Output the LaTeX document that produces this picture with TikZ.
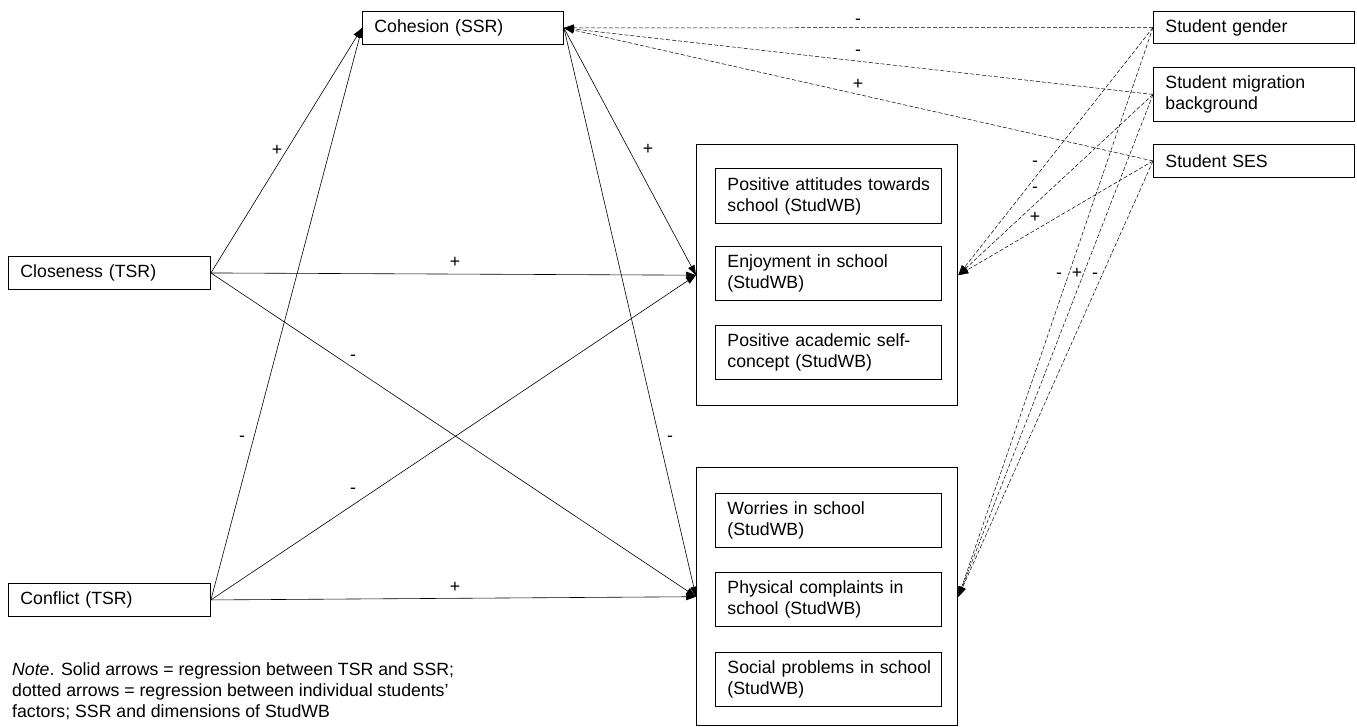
\documentclass[tikz,border=0pt]{standalone}
\usepackage{fontspec}
\setmainfont{Liberation Sans}
\usetikzlibrary{arrows.meta}

\begin{document}
\begin{tikzpicture}[x=1pt,y=-1pt,font=\fontsize{17.7pt}{21pt}\selectfont,
  box/.style={draw, line width=0.9pt, anchor=north west, align=left, inner xsep=12pt, inner ysep=0pt},
  grp/.style={draw, line width=1.4pt, anchor=north west, inner sep=0pt},
  reg/.style={line width=0.6pt, -{Triangle[length=10pt,width=7pt]}},
  cov/.style={reg, line width=0.5pt, dash pattern=on 4pt off 2pt},
  sgn/.style={inner sep=0pt, text height=1.5ex, text depth=.25ex}]
\useasboundingbox (0,0) rectangle (1357,727);
%Boxes
\node[box, text width=177pt, minimum height=33pt] (coh) at (362,11) {Cohesion (SSR)};
\node[box, text width=178pt, minimum height=33pt] (close) at (8,256) {Closeness (TSR)};
\node[box, text width=178pt, minimum height=33pt] (confl) at (8,583) {Conflict (TSR)};
\node[box, text width=177pt, minimum height=32pt] (gen) at (1153,11) {Student gender};
\node[box, text width=177pt, minimum height=54pt] (mig) at (1153,67) {Student migration\\background};
\node[box, text width=177pt, minimum height=33pt] (ses) at (1153,144) {Student SES};
\node[grp, minimum width=261pt, minimum height=261pt] (grp1) at (696,144) {};
\node[grp, minimum width=261pt, minimum height=258pt] (grp2) at (696,467) {};
\node[box, text width=202pt, minimum height=55pt] (att) at (715,168) {\mbox{Positive attitudes towards}\\school (StudWB)};
\node[box, text width=202pt, minimum height=54pt] (enj) at (715,246) {Enjoyment in school\\(StudWB)};
\node[box, text width=202pt, minimum height=54pt] (self) at (715,325) {\mbox{Positive academic self-}\\concept (StudWB)};
\node[box, text width=202pt, minimum height=54pt] (wor) at (715,493) {Worries in school\\(StudWB)};
\node[box, text width=202pt, minimum height=54pt] (phys) at (715,572) {\mbox{Physical complaints in}\\school (StudWB)};
\node[box, text width=202pt, minimum height=54pt] (soc) at (715,652) {\mbox{Social problems in school}\\(StudWB)};
%Arrows
\draw[reg] (close.east) -- (coh.west);
\draw[reg] (confl.east) -- (coh.west);
\draw[reg] (close.east) -- (grp1.west);
\draw[reg] (close.east) -- (grp2.west);
\draw[reg] (confl.east) -- (grp1.west);
\draw[reg] (confl.east) -- (grp2.west);
\draw[reg] (coh.east) -- (grp1.west);
\draw[reg] (coh.east) -- (grp2.west);
\draw[cov] (gen.west) -- (coh.east);
\draw[cov] (mig.west) -- (coh.east);
\draw[cov] (ses.west) -- (coh.east);
\draw[cov] (gen.west) -- (grp1.east);
\draw[cov] (mig.west) -- (grp1.east);
\draw[cov] (ses.west) -- (grp1.east);
\draw[cov] (gen.west) -- (grp2.east);
\draw[cov] (mig.west) -- (grp2.east);
\draw[cov] (ses.west) -- (grp2.east);
%Text
\node[sgn] (s1) at (277,152) {+};
\node[sgn] (s2) at (242,438) {-};
\node[sgn] (s3) at (648,151) {+};
\node[sgn] (s4) at (670,438) {-};
\node[sgn] (s5) at (455,264) {+};
\node[sgn] (s6) at (353,357) {-};
\node[sgn] (s7) at (353,490) {-};
\node[sgn] (s8) at (455,589) {+};
\node[sgn] (s9) at (858,21) {-};
\node[sgn] (s10) at (858,52) {-};
\node[sgn] (s11) at (858,86) {+};
\node[sgn] (s12) at (1035,163) {-};
\node[sgn] (s13) at (1035,189) {-};
\node[sgn] (s14) at (1035,219) {+};
\node[sgn] (s15) at (1059,275) {-};
\node[sgn] (s16) at (1077,275) {+};
\node[sgn] (s17) at (1095,275) {-};
\node[anchor=north west, align=left, inner sep=0pt] (note) at (12,662) {\textit{Note}. Solid arrows = regression between TSR and SSR;\\dotted arrows = regression between individual students’\\factors; SSR and dimensions of StudWB};
\end{tikzpicture}
\end{document}
